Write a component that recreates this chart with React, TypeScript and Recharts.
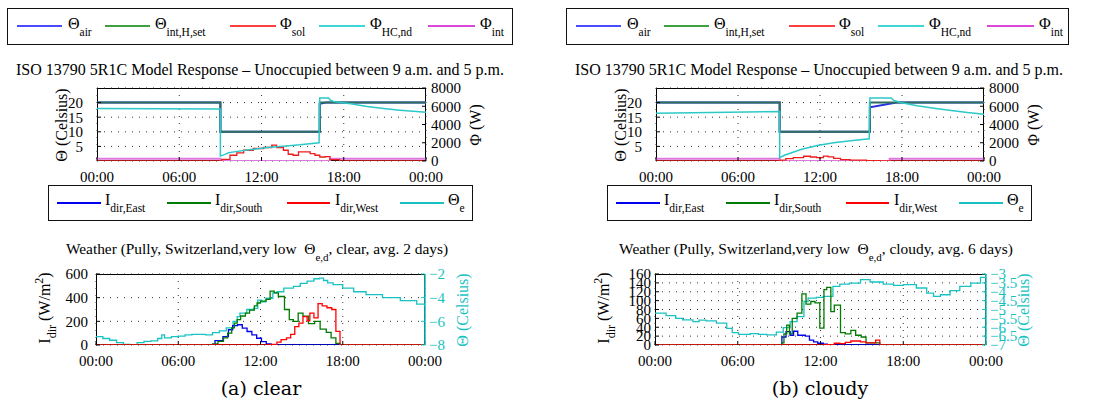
import React from 'react';
import { LineChart, Line, XAxis, YAxis, CartesianGrid } from 'recharts';

type P = [number, number][];

// ---------- time axis ----------
const hourTicks = [0, 6, 12, 18, 24];
const hourLabels = ['00:00', '06:00', '12:00', '18:00', '00:00'];

// ---------- (a) clear : model response ----------
const clearThetaAir: P = [[0, 20], [9, 20], [9, 10], [16.25, 10], [16.25, 19.6], [16.7, 20], [24, 20]];
const clearThetaSet: P = [[0, 20], [9, 20], [9, 10], [16.25, 10], [16.25, 20], [24, 20]];
const clearPhiSol: P = [[0, 0], [9.1, 180], [9.7, 630], [10.2, 890], [10.7, 1180], [11.4, 1370], [12.15, 1480], [12.75, 1740], [13.1, 1480], [13.6, 1180], [13.95, 740], [14.3, 630], [14.7, 1000], [15.55, 810], [15.9, 630], [16.25, 440], [16.65, 470], [17.0, 150], [17.7, 0], [24, 0]];
const clearPhiHC: P = [[0, 5750], [9, 5700], [9, 560], [9.3, 700], [9.6, 900], [10, 1000], [11.2, 1250], [12.4, 1480], [13.6, 1620], [14.8, 1770], [16.2, 2000], [16.25, 6900], [16.9, 6900], [17.0, 6700], [17.25, 6530], [18.5, 6270], [19.7, 5980], [20.9, 5760], [22.1, 5570], [23.3, 5420], [24, 5350]];
const clearPhiInt: P = [[0, 250], [9, 0], [17, 250], [24, 250]];

// ---------- (b) cloudy : model response ----------
const cloudyThetaAir: P = [[0, 20], [9.05, 20], [9.05, 10], [15.65, 10], [15.65, 18.4], [17.6, 20], [24, 20]];
const cloudyThetaSet: P = [[0, 20], [9.05, 20], [9.05, 10], [15.65, 10], [15.65, 20], [24, 20]];
const cloudyPhiSol: P = [[0, 0], [9.1, 100], [9.5, 250], [10.05, 380], [10.8, 520], [11.3, 440], [11.75, 380], [12.25, 540], [12.6, 460], [13.0, 280], [13.5, 160], [14.2, 90], [15.4, 40], [16.4, 0], [24, 0]];
const cloudyPhiHC: P = [[0, 5240], [9.05, 5420], [9.05, 370], [9.4, 630], [10.6, 1250], [11.8, 1700], [13.0, 1990], [14.25, 2210], [15.6, 2440], [15.65, 6900], [17.2, 6900], [17.4, 6640], [17.9, 6420], [19.1, 6050], [20.35, 5790], [21.6, 5540], [22.8, 5310], [24, 5130]];
const cloudyPhiInt: P = [[0, 250], [9.05, 0], [17.1, 250], [24, 250]];

// ---------- (a) clear : weather ----------
const clearEast: P = [[0, 0], [8.68, 37], [9.26, 71], [9.66, 129], [9.97, 163], [10.32, 171], [10.67, 143], [11.02, 114], [11.37, 86], [11.72, 57], [12.07, 29], [12.42, 10], [12.77, 0], [24, 0]];
const clearSouth: P = [[0, 0], [8.5, 10], [8.9, 30], [9.3, 60], [9.6, 100], [9.9, 145], [10.1, 185], [10.3, 215], [10.55, 245], [10.9, 270], [11.2, 295], [11.55, 330], [11.75, 355], [12.0, 370], [12.4, 385], [12.7, 455], [13.0, 440], [13.3, 410], [13.75, 300], [14.1, 215], [14.4, 200], [14.75, 270], [15.1, 243], [15.5, 180], [15.95, 200], [16.35, 134], [16.8, 106], [17.15, 60], [17.5, 14], [17.8, 0], [24, 0]];
const clearWest: P = [[0, 0], [12.7, 5], [13.2, 25], [13.5, 45], [13.9, 60], [14.2, 90], [14.5, 155], [14.8, 185], [15.1, 240], [15.4, 205], [15.6, 270], [15.9, 230], [16.2, 350], [16.5, 330], [16.85, 315], [17.2, 300], [17.5, 115], [17.8, 0], [24, 0]];
const clearThetaE: P = [[0, -7.3], [0.5, -7.45], [1.0, -7.6], [1.5, -7.8], [2.0, -7.95], [2.5, -8.0], [3.0, -7.8], [3.5, -7.7], [4.0, -7.65], [4.5, -7.45], [4.8, -7.15], [5.0, -7.4], [5.5, -7.3], [6.0, -7.25], [6.5, -7.15], [7.0, -7.1], [7.5, -7.1], [8.0, -7.15], [8.5, -6.95], [9.0, -6.8], [9.5, -6.55], [10.0, -6.0], [10.3, -5.6], [10.5, -5.3], [11.0, -5.0], [11.5, -4.9], [11.8, -4.2], [12.1, -4.35], [12.4, -4.05], [12.9, -3.6], [13.2, -3.5], [13.7, -3.2], [14.4, -3.05], [14.9, -2.8], [15.4, -2.6], [15.9, -2.4], [16.3, -2.35], [16.6, -2.55], [16.9, -2.75], [17.3, -2.9], [18.0, -3.2], [18.8, -3.5], [19.7, -3.75], [20.9, -4.0], [22.2, -4.25], [23.4, -4.55], [24, -4.75]];

// ---------- (b) cloudy : weather ----------
const cloudyEast: P = [[0, 0], [9.2, 18], [9.5, 30], [9.8, 22], [10.05, 31], [10.35, 22], [10.9, 20], [11.2, 11], [11.5, 7], [11.8, 4], [12.2, 2], [12.5, 0], [24, 0]];
const cloudySouth: P = [[0, 0], [9.2, 5], [9.35, 25], [9.55, 45], [9.75, 25], [9.95, 60], [10.3, 72], [10.65, 115], [10.95, 92], [11.3, 98], [11.6, 95], [11.95, 38], [12.25, 125], [12.45, 130], [12.75, 75], [13.0, 90], [13.45, 28], [13.8, 25], [14.2, 33], [14.55, 22], [14.95, 18], [15.3, 5], [16.3, 0], [24, 0]];
const cloudyWest: P = [[0, 0], [12.3, 1], [13.0, 4], [13.4, 3], [13.8, 6], [14.2, 9], [14.9, 7], [15.3, 5], [16.0, 11], [16.3, 0], [24, 0]];
const cloudyThetaE: P = [[0, -5.2], [0.8, -5.35], [1.5, -5.5], [2.0, -5.58], [2.75, -5.68], [3.2, -5.6], [3.7, -5.64], [4.45, -5.77], [5.2, -6.06], [5.6, -6.3], [6.05, -6.4], [6.9, -6.36], [7.5, -6.4], [8.1, -6.43], [8.8, -6.28], [9.3, -6.02], [9.8, -5.68], [10.3, -5.4], [10.8, -4.55], [11.1, -4.36], [11.7, -4.32], [12.2, -4.26], [12.9, -3.7], [13.4, -3.57], [14.1, -3.51], [14.9, -3.32], [15.6, -3.45], [16.55, -3.57], [17.3, -3.64], [18.0, -3.6], [18.95, -3.79], [19.7, -4.08], [20.2, -4.26], [20.7, -4.17], [21.4, -3.94], [22.1, -3.7], [22.9, -3.51], [23.6, -3.19], [24, -3.0]];

// ---------- axis ticks ----------
const thetaTicks = [5, 10, 15, 20];
const phiTicks = [0, 2000, 4000, 6000, 8000];
const clearIrrTicks = [0, 200, 400, 600];
const clearTeTicks = [-8, -6, -4, -2];
const cloudyIrrTicks = [0, 20, 40, 60, 80, 100, 120, 140, 160];
const cloudyTeTicks = [-7, -6.5, -6, -5.5, -5, -4.5, -4, -3.5, -3];

// ---------- styling ----------
const FONT = '"Liberation Serif", "DejaVu Serif", serif';
const C = {
  airTop: '#2233dd', setTop: '#2e6e5a', solTop: '#ee1c1c', hcTop: '#2cc8c8', intTop: '#dd77dd',
  east: '#0000ee', south: '#007a00', west: '#ff0000', te: '#19c2c2',
  legBlue: '#4a4aff', legGreen: '#3fa03f', legRed: '#ff4040', legCyan: '#3fd6d6', legMag: '#d948d9',
};
const minus = (v: number) => (v < 0 ? '\u2212' + String(-v) : String(v));

interface Series { data: P; color: string; axis: 'L' | 'R'; type: 'linear' | 'stepAfter'; width?: number; opacity?: number }

interface PlotProps {
  x: number; y: number; w: number; h: number;
  lDomain: [number, number]; lTicks: number[]; lGap: number;
  rDomain: [number, number]; rTicks: number[]; rGap: number; rColor: string; rFmt?: (v: number) => string;
  rLine?: string;
  series: Series[];
}

const TICK = -4; // inward tick marks

function Plot(p: PlotProps) {
  const AW = 70, TOP = 10, XH = 30;
  const tickStyle = { fontSize: 15, fontFamily: FONT, fill: '#000' };
  return (
    <>
      <div style={{ position: 'absolute', left: p.x, top: p.y, width: p.w, height: p.h, border: '1px solid #000', boxSizing: 'border-box' }} />
      <div style={{ position: 'absolute', left: p.x - AW, top: p.y - TOP }}>
        <LineChart width={p.w + 2 * AW} height={p.h + TOP + XH} margin={{ top: TOP, right: 0, bottom: 0, left: 0 }}>
          <CartesianGrid yAxisId="L" stroke="#333" strokeDasharray="1 6" />
          <XAxis type="number" dataKey="t" domain={[0, 24]} ticks={hourTicks} interval={0} allowDataOverflow
            tickFormatter={(v: number) => hourLabels[hourTicks.indexOf(v)]} axisLine={false} tickLine={{ stroke: '#000' }}
            tickSize={TICK} tickMargin={10 - TICK} height={XH} tick={tickStyle} />
          <YAxis yAxisId="L" type="number" domain={p.lDomain} ticks={p.lTicks} interval={0} allowDataOverflow
            width={AW} axisLine={false} tickLine={{ stroke: '#000' }} tickSize={TICK} tickMargin={p.lGap - TICK} tick={tickStyle} />
          <YAxis yAxisId="R" orientation="right" type="number" domain={p.rDomain} ticks={p.rTicks} interval={0} allowDataOverflow
            width={AW} axisLine={p.rLine ? { stroke: p.rLine, strokeWidth: 1.5 } : false} tickLine={{ stroke: p.rLine ?? '#000' }}
            tickSize={TICK} tickMargin={p.rGap - TICK}
            tickFormatter={p.rFmt} tick={{ ...tickStyle, fill: p.rColor }} />
          {p.series.map((s, i) => (
            <Line key={i} yAxisId={s.axis} data={s.data.map(([t, v]) => ({ t, v }))} dataKey="v" type={s.type}
              stroke={s.color} strokeWidth={s.width ?? 1.3} strokeOpacity={s.opacity ?? 1}
              dot={false} activeDot={false} isAnimationActive={false} />
          ))}
        </LineChart>
      </div>
    </>
  );
}

interface LegItem { x1: number; x2: number; tx: number; color: string; main: string; sub: string }

function LegendBox({ left, top, width, height, lineY, items, textDy }: { left: number; top: number; width: number; height: number; lineY: number; items: LegItem[]; textDy: number }) {
  return (
    <>
      <div style={{ position: 'absolute', left, top, width, height, border: '1.5px solid #111', boxSizing: 'border-box', background: '#fff' }} />
      {items.map((it, i) => (
        <React.Fragment key={i}>
          <div style={{ position: 'absolute', left: it.x1, top: lineY - 0.75, width: it.x2 - it.x1, height: 1.5, background: it.color }} />
          <div style={{ position: 'absolute', left: it.tx, top: lineY + textDy, fontSize: 16, lineHeight: '20px', whiteSpace: 'nowrap', fontFamily: FONT }}>
            {it.main}<span style={{ fontSize: 11.5, position: 'relative', top: 7 }}>{it.sub}</span>
          </div>
        </React.Fragment>
      ))}
    </>
  );
}

function VLabel({ cx, cy, color = '#000', children }: { cx: number; cy: number; color?: string; children: React.ReactNode }) {
  return (
    <div style={{ position: 'absolute', left: cx, top: cy, transform: 'translate(-50%, -50%) rotate(-90deg)', whiteSpace: 'nowrap', fontSize: 16, lineHeight: '18px', fontFamily: FONT, color }}>
      {children}
    </div>
  );
}

function Title({ cx, top, size, children }: { cx: number; top: number; size: number; children: React.ReactNode }) {
  return (
    <div style={{ position: 'absolute', left: cx - 300, width: 600, top, textAlign: 'center', fontSize: size, lineHeight: '18px', whiteSpace: 'nowrap', fontFamily: FONT }}>
      {children}
    </div>
  );
}

function Panel({ dx, boxW, kind, resp, weather, irrDomain, irrTicks, irrGap, teDomain, teTicks, caption, avg, plotW, lowW }: {
  dx: number; boxW: number; kind: string; resp: Series[]; weather: Series[]; irrDomain: [number, number]; irrTicks: number[]; irrGap: number;
  teDomain: [number, number]; teTicks: number[]; caption: string; avg: string; plotW: number; lowW: number;
}) {
  const topItems: LegItem[] = [
    { x1: 17, x2: 62, tx: 68, color: C.legBlue, main: 'Θ', sub: 'air' },
    { x1: 105, x2: 150, tx: 155, color: C.legGreen, main: 'Θ', sub: 'int,H,set' },
    { x1: 230, x2: 276, tx: 280, color: C.legRed, main: 'Φ', sub: 'sol' },
    { x1: 319, x2: 365, tx: 370, color: C.legCyan, main: 'Φ', sub: 'HC,nd' },
    { x1: 428, x2: 475, tx: 480, color: C.legMag, main: 'Φ', sub: 'int' },
  ].map((it) => ({ ...it, x1: it.x1 + dx, x2: it.x2 + dx, tx: it.tx + dx }));
  const lowItems: LegItem[] = [
    { x1: 57, x2: 101, tx: 105, color: C.east, main: 'I', sub: 'dir,East' },
    { x1: 167, x2: 211, tx: 215, color: C.south, main: 'I', sub: 'dir,South' },
    { x1: 287, x2: 330, tx: 335, color: C.west, main: 'I', sub: 'dir,West' },
    { x1: 400, x2: 444, tx: 448, color: C.te, main: 'Θ', sub: 'e' },
  ].map((it) => ({ ...it, x1: it.x1 + dx, x2: it.x2 + dx, tx: it.tx + dx }));
  return (
    <>
      <LegendBox left={7 + dx} top={8} width={boxW} height={37} lineY={26} items={topItems} textDy={-12} />
      <Title cx={260 + dx} top={61} size={16}>ISO 13790 5R1C Model Response – Unoccupied between 9 a.m. and 5 p.m.</Title>
      <Plot x={97 + dx} y={88} w={plotW} h={73} lDomain={[0, 25]} lTicks={thetaTicks} lGap={14}
        rDomain={[0, 8000]} rTicks={phiTicks} rGap={5} rColor="#000" series={resp} />
      <VLabel cx={62 + dx} cy={125}>Θ (Celsius)</VLabel>
      <VLabel cx={97 + dx + plotW + 50} cy={125}>Φ (W)</VLabel>

      <LegendBox left={48 + dx} top={185} width={425} height={36} lineY={203} items={lowItems} textDy={-13} />
      <Title cx={257 + dx} top={240} size={15.4}>
        Weather (Pully, Switzerland,very low&nbsp;&nbsp;Θ<span style={{ fontSize: 11, position: 'relative', top: 7 }}>e,d</span>, {kind}, avg. {avg} days)
      </Title>
      <Plot x={96 + dx} y={274} w={lowW} h={71} lDomain={irrDomain} lTicks={irrTicks} lGap={irrGap}
        rDomain={teDomain} rTicks={teTicks} rGap={4} rColor={C.te} rFmt={minus} rLine={C.te} series={weather} />
      <VLabel cx={45 + dx} cy={308}>I<span style={{ fontSize: 12, position: 'relative', top: 6 }}>dir</span> (W/m<span style={{ fontSize: 12, position: 'relative', top: -7 }}>2</span>)</VLabel>
      <VLabel cx={96 + dx + lowW + 38} cy={310} color={C.te}>Θ (Celsius)</VLabel>

      <div style={{ position: 'absolute', left: 261 + dx - 100, width: 200, top: 376, textAlign: 'center', fontSize: 19, lineHeight: '24px', fontFamily: '"DejaVu Serif", serif' }}>
        {caption}
      </div>
    </>
  );
}

const respSeries = (air: P, set: P, sol: P, hc: P, int: P): Series[] => [
  { data: air, color: C.airTop, axis: 'L', type: 'linear', width: 2 },
  { data: set, color: C.setTop, axis: 'L', type: 'linear', width: 2 },
  { data: int, color: C.intTop, axis: 'R', type: 'stepAfter', width: 2 },
  { data: sol, color: C.solTop, axis: 'R', type: 'stepAfter', width: 1.3 },
  { data: hc, color: C.hcTop, axis: 'R', type: 'linear', width: 1.5 },
];

const weatherSeries = (e: P, s: P, w: P, te: P): Series[] => [
  { data: te, color: C.te, axis: 'R', type: 'stepAfter', width: 1.3 },
  { data: e, color: C.east, axis: 'L', type: 'stepAfter', width: 1.3 },
  { data: s, color: C.south, axis: 'L', type: 'stepAfter', width: 1.3 },
  { data: w, color: C.west, axis: 'L', type: 'stepAfter', width: 1.3 },
];

export default function App() {
  return (
    <div style={{ position: 'absolute', left: 0, top: 0, width: 1099, height: 404, background: '#fff', overflow: 'hidden', fontFamily: FONT }}>
      <Panel dx={0} boxW={506} kind="clear" avg="2" caption="(a) clear" plotW={329} lowW={329}
        resp={respSeries(clearThetaAir, clearThetaSet, clearPhiSol, clearPhiHC, clearPhiInt)}
        weather={weatherSeries(clearEast, clearSouth, clearWest, clearThetaE)}
        irrDomain={[0, 600]} irrTicks={clearIrrTicks} irrGap={8} teDomain={[-8, -2]} teTicks={clearTeTicks} />
      <Panel dx={559} boxW={503} kind="cloudy" avg="6" caption="(b) cloudy" plotW={328} lowW={331}
        resp={respSeries(cloudyThetaAir, cloudyThetaSet, cloudyPhiSol, cloudyPhiHC, cloudyPhiInt)}
        weather={weatherSeries(cloudyEast, cloudySouth, cloudyWest, cloudyThetaE)}
        irrDomain={[0, 160]} irrTicks={cloudyIrrTicks} irrGap={4} teDomain={[-7, -3]} teTicks={cloudyTeTicks} />
    </div>
  );
}
